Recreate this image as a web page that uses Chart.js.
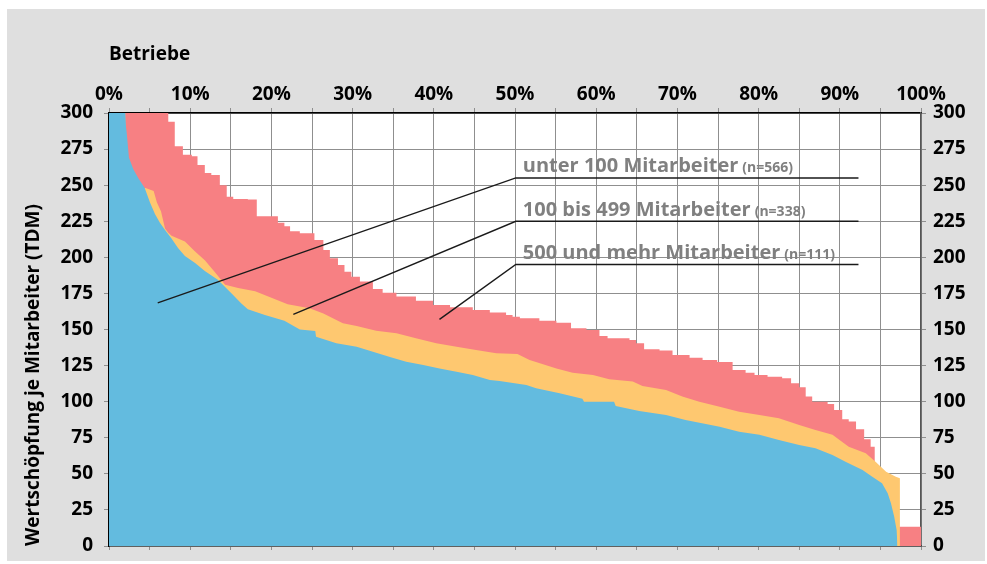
<!DOCTYPE html>
<html><head><meta charset="utf-8">
<script src="https://cdn.jsdelivr.net/npm/chart.js@4"></script>
<style>
html,body{margin:0;padding:0;background:#fff;}
#frame{position:absolute;left:7px;top:9px;width:978px;height:552px;background:#dfdfdf;}
#wrap{position:absolute;left:0;top:0;width:987px;height:564px;}
</style></head><body>
<div id="frame"></div>
<div id="wrap"><canvas id="c" width="987" height="564"></canvas></div>
<script>
// ---- data (x = % of firms, y = value added per employee, TDM) ----
const blueX = [0,2.0,2.1,2.17,2.46,3.0,3.6,4.4,5.05,5.66,6.27,6.9,7.7,8.5,9.35,10.6,11.8,13.4,15.1,16.3,17.1,19.2,21.6,23.5,25.4,25.5,28,30.5,32.5,34.6,36.6,38.7,40.7,42.8,44.8,46.9,48.1,51.4,52.6,55.5,58.3,58.5,62.2,62.4,65.3,68.6,71,73.5,75.2,77.6,80.1,82.5,85,87,89.1,90.7,92.8,94,95.2,95.9,96.3,96.7,97.0,97.1];
const blueY = [300,300,290,287,269,261,255,248,238,230,224,219,213,206.5,201,196,190.5,184.5,175,168,164,160,156,150,149,145,140.5,138,134.6,131,127.7,125.4,123,120.8,118.5,115,114.3,111.6,109.3,105.8,102,100,100,97,93.6,90.8,87.3,84.5,82.7,79.2,77,73.5,70,67.7,63,58.4,52.7,48,43.4,36.5,29.6,20.3,11,0];

const orangeX = [0,2.0,2.0,3.0,3.0,4.5,5.5,5.9,6.4,6.9,7.3,7.7,9.35,10.6,11.8,13.0,14.3,15.9,18,20,22,24.7,26.4,28,28.8,30.5,32.9,35.4,37.8,40.3,42.8,45.2,47.7,50.3,51.8,55.1,57.1,59.6,61.6,64.5,65.7,68.6,70.6,72.7,75.2,77.6,80.1,82.5,85,87,89.1,91.1,93.2,94.4,95.7,96.9,97.4,97.4];
const orangeY = [300,300,260,260,248,248,246,238,232,220,217,215,211,204,198,190,181,178.8,176.5,172,167.5,164.7,161,156.6,154.3,152.5,149.2,147.4,143.9,140.5,138,135.8,133.5,133,128.9,123,120,118.5,115.5,113.9,110.9,108,103.5,100,96.5,93,90.8,88.5,83.9,80.4,77,68.8,64.2,58.4,51.5,48,47,0];

const redX = [0,7.3,8.1,9.1,10.2,10.9,11.8,12.6,13.65,14.5,15.3,17.1,18.2,20.8,21.6,22.3,23.5,25.3,26.4,27.2,28.2,29,29.85,30.9,32.5,33.7,35.4,37.8,39.9,42,44.8,46.9,48.9,49.7,50.6,53,55.1,56.9,58.8,60.4,61.4,64.1,64.9,65.9,67.8,69.4,71.5,73.1,74.9,76.8,78.4,79.5,81.1,82.9,84,85,85.8,86.6,88.5,89.3,90.3,91.1,92,93,93.8,94.3,95.5,96.5,97.3,100];
const redY = [300,294,277,271,270,264,258.5,257,250,242,240.5,240,228.5,224,221.5,218,216.7,212,205,199.4,194.7,190,186.6,183.2,178,175.5,172.8,170,167,165.4,163.5,161.7,160,158.9,157.8,156.1,154.7,150.8,149.7,145.5,143.9,142.8,140.5,136.3,135.4,132.4,130.5,128.9,127.5,122,120,118.5,117.3,116.2,112.7,110,103.5,100,98.4,94.2,87.8,86.2,80.9,74,68.8,50,35,20,13.4,13.4];

const seriesLabels = ['unter 100 Mitarbeiter','100 bis 499 Mitarbeiter','500 und mehr Mitarbeiter'];
const seriesN = [566, 338, 111];
const xTitle = 'Betriebe';
const yTitle = 'Wertschöpfung je Mitarbeiter (TDM)';

// ---- styling / layout (not data) ----
const FONT = "'Open Sans', 'Noto Sans', sans-serif";
const leaderStart = [[6.0,168.4],[22.7,160.5],[40.7,157]];
const leaderElbowY = [255,225,195];
const leaderElbowX = 50.1, leaderEndX = 92.3;

const pts = (xs, ys) => xs.map((x, i) => ({x, y: ys[i]}));

const plotBg = {
  id: 'plotBg',
  beforeDraw(chart) {
    const {ctx, chartArea: a} = chart;
    ctx.save(); ctx.fillStyle = '#fff';
    ctx.fillRect(a.left, a.top, a.right - a.left, a.bottom - a.top);
    ctx.restore();
  }
};

const leaders = {
  id: 'leaders',
  afterDatasetsDraw(chart) {
    const {ctx} = chart;
    const sx = chart.scales.x, sy = chart.scales.y;
    ctx.save();
    for (let i = 0; i < seriesLabels.length; i++) {
      const x0 = sx.getPixelForValue(leaderStart[i][0]), y0 = sy.getPixelForValue(leaderStart[i][1]);
      const x1 = sx.getPixelForValue(leaderElbowX), y1 = sy.getPixelForValue(leaderElbowY[i]);
      const x2 = sx.getPixelForValue(leaderEndX);
      ctx.strokeStyle = '#1a1a1a'; ctx.lineWidth = 1.4;
      ctx.beginPath(); ctx.moveTo(x0, y0); ctx.lineTo(x1, y1); ctx.lineTo(x2, y1); ctx.stroke();
      ctx.fillStyle = '#808080'; ctx.textBaseline = 'alphabetic'; ctx.textAlign = 'left';
      ctx.font = "bold 20px " + FONT;
      const tx = x1 + 7, ty = y1 - 5.5;
      ctx.fillText(seriesLabels[i], tx, ty);
      const w = ctx.measureText(seriesLabels[i]).width;
      ctx.font = "bold 14px " + FONT;
      ctx.fillText('(n=' + seriesN[i] + ')', tx + w + 4, ty);
    }
    ctx.restore();
  }
};

const tickFont = {family: FONT, size: 19, weight: 'bold'};
const gridCol = '#8f8f8f';
const noPadV = s => { s.paddingTop = 0; s.paddingBottom = 0; };
const noPadH = s => { s.paddingLeft = 0; s.paddingRight = 0; };

new Chart(document.getElementById('c'), {
  type: 'line',
  data: {
    datasets: [
      {label: seriesLabels[0], data: pts(blueX, blueY), backgroundColor: '#63bbdf', borderWidth: 0, pointRadius: 0, fill: 'origin', tension: 0},
      {label: seriesLabels[1], data: pts(orangeX, orangeY), backgroundColor: '#fec870', borderWidth: 0, pointRadius: 0, fill: 'origin', tension: 0},
      {label: seriesLabels[2], data: pts(redX, redY), backgroundColor: '#f78083', borderWidth: 0, pointRadius: 0, fill: 'origin', stepped: 'before'}
    ]
  },
  options: {
    responsive: false,
    animation: false,
    layout: {padding: 0},
    plugins: {legend: {display: false}, tooltip: {enabled: false}},
    scales: {
      x: {
        type: 'linear', position: 'top', min: 0, max: 100,
        ticks: {stepSize: 5, autoSkip: false, maxRotation: 0, font: tickFont, color: '#000', padding: 2,
          callback: v => (v % 10 === 0 ? v + '%' : '')},
        grid: {color: gridCol, lineWidth: 1, tickLength: 5, tickColor: gridCol},
        border: {color: '#000', width: 1.5},
        title: {display: true, text: xTitle, align: 'start', font: tickFont, color: '#000', padding: {top: 43, bottom: 0}},
        afterFit: s => { s.height = 113; noPadH(s); }
      },
      x2: {
        type: 'linear', position: 'bottom', min: 0, max: 100,
        ticks: {display: false, stepSize: 5},
        grid: {drawOnChartArea: false, tickLength: 4, tickColor: gridCol},
        border: {color: '#333', width: 1.5},
        afterFit: s => { s.height = 18; noPadH(s); }
      },
      y: {
        position: 'left', min: 0, max: 300,
        ticks: {stepSize: 25, font: tickFont, color: '#000', padding: 11},
        grid: {color: gridCol, lineWidth: 1, tickLength: 5, tickColor: gridCol},
        border: {color: '#000', width: 1.5},
        title: {display: true, text: yTitle, align: 'start', font: tickFont, color: '#000', padding: {top: 22, bottom: 0}},
        afterFit: s => { s.width = 109; noPadV(s); }
      },
      y2: {
        position: 'right', min: 0, max: 300,
        ticks: {stepSize: 25, font: tickFont, color: '#000', padding: 7},
        grid: {drawOnChartArea: false, tickLength: 5, tickColor: gridCol},
        border: {color: '#555', width: 1.5},
        afterFit: s => { s.width = 66; noPadV(s); }
      }
    }
  },
  plugins: [plotBg, leaders]
});
</script>
</body></html>
